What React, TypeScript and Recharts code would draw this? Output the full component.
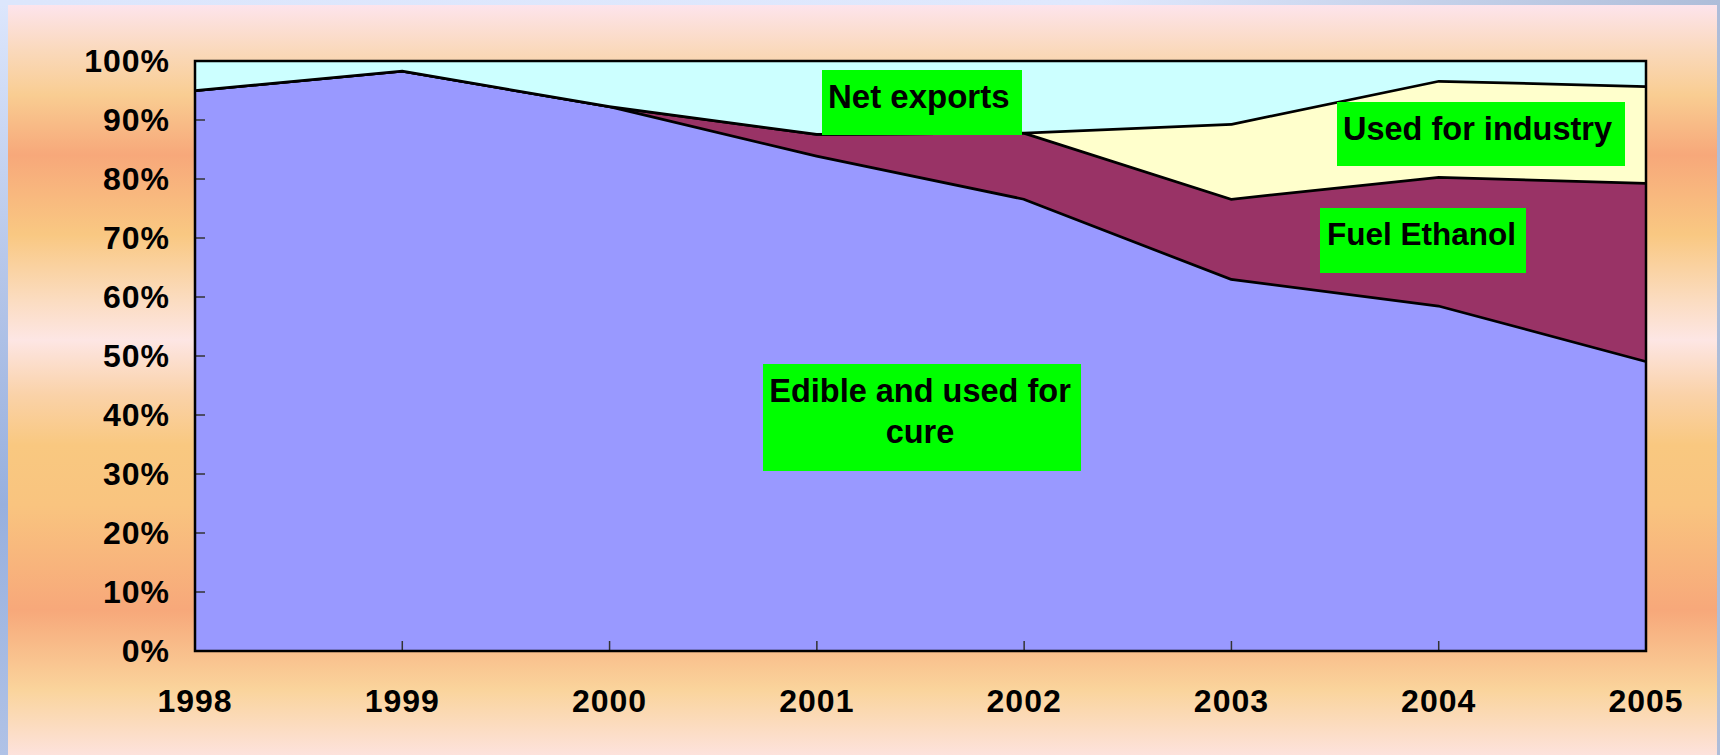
import { AreaChart, Area, XAxis, YAxis, ReferenceArea } from 'recharts';

const years = ['1998', '1999', '2000', '2001', '2002', '2003', '2004', '2005'];
const edible = [95.2, 98.5, 92.5, 84.1, 76.8, 63.2, 58.7, 49.3];
const fuelEthanol = [0, 0, 0, 3.7, 11.2, 13.6, 21.8, 30.2];
const industry = [0, 0, 0, 0, 0, 12.7, 16.3, 16.4];
const netExports = [4.8, 1.5, 7.5, 12.2, 12.0, 10.5, 3.2, 4.1];
const yTicks = [0, 10, 20, 30, 40, 50, 60, 70, 80, 90, 100];

const data = years.map((year, i) => ({
  year,
  edible: edible[i],
  fuel: fuelEthanol[i],
  industry: industry[i],
  exports: netExports[i],
}));

const font = '"Liberation Sans", Arial, sans-serif';

const tickStyle = { fontSize: 32, fontWeight: 'bold', fill: '#000', fontFamily: font, letterSpacing: 1 };

// green annotation boxes, page coordinates
const notes = [
  { x: 822, y: 70, w: 200, h: 65, lines: ['Net exports'], tx: 828, ty: [108], anchor: 'start', size: 33 },
  { x: 763, y: 364, w: 318, h: 107, lines: ['Edible and used for', 'cure'], tx: 920, ty: [402, 443], anchor: 'middle', size: 32.5 },
  { x: 1337, y: 102, w: 288, h: 64, lines: ['Used for industry'], tx: 1343, ty: [140], anchor: 'start', size: 32.5 },
  { x: 1320, y: 208, w: 206, h: 65, lines: ['Fuel Ethanol'], tx: 1327, ty: [245], anchor: 'start', size: 31.5 },
];

const panelBg =
  'linear-gradient(to bottom, #fde4ec 0px, #fad9bc 45px, #f9cd92 90px, #f7a87a 150px, #f9c882 230px, #fbdcc0 295px, #fde6e4 335px, #fad2a8 390px, #f9c880 440px, #f9c47f 500px, #f7a87a 605px, #fad49c 685px, #fde2dc 750px)';

// each later area covers the upper half of the line below it, so strokes are drawn wide
const LINE = 5.5;

export default function App() {
  return (
    <div
      style={{
        position: 'relative',
        width: 1720,
        height: 755,
        overflow: 'hidden',
        background: 'linear-gradient(to right, #dce6fc 0px, #dfe8fd 1100px, #aebdd9 1720px)',
      }}
    >
      <style>{`body{margin:0}`}</style>
      <div
        style={{
          position: 'absolute',
          left: 0,
          top: 5,
          width: 8,
          height: 750,
          background: 'linear-gradient(to bottom, #dce6fc 0px, #b8c8ea 250px, #98b0de 500px, #b0c2e6 750px)',
        }}
      />
      <div style={{ position: 'absolute', left: 8, top: 5, width: 1709, height: 750, background: panelBg }}>
        <AreaChart width={1709} height={750} data={data} margin={{ top: 56, right: 71, left: 0, bottom: 44 }}>
          <XAxis
            dataKey="year"
            axisLine={false}
            tickSize={-10}
            tickMargin={48}
            tickLine={{ stroke: '#333', strokeWidth: 1.5 }}
            tick={tickStyle}
            height={60}
            interval={0}
          />
          <YAxis
            type="number"
            domain={[0, 100]}
            ticks={yTicks}
            tickFormatter={(v) => `${v}%`}
            axisLine={false}
            tickSize={-10}
            tickMargin={35}
            tickLine={{ stroke: '#333', strokeWidth: 1.5 }}
            tick={tickStyle}
            width={187}
          />
          <Area type="linear" dataKey="edible" stackId="a" fill="#9999ff" fillOpacity={1} stroke="#000" strokeWidth={LINE} isAnimationActive={false} />
          <Area type="linear" dataKey="fuel" stackId="a" fill="#993366" fillOpacity={1} stroke="#000" strokeWidth={LINE} isAnimationActive={false} />
          <Area type="linear" dataKey="industry" stackId="a" fill="#ffffcc" fillOpacity={1} stroke="#000" strokeWidth={LINE} isAnimationActive={false} />
          <Area type="linear" dataKey="exports" stackId="a" fill="#ccffff" fillOpacity={1} stroke="none" isAnimationActive={false} />
          <ReferenceArea x1="1998" x2="2005" y1={0} y2={100} fill="none" stroke="#000" strokeWidth={2.5} zIndex={650} />
        </AreaChart>
      </div>
      <svg width={1720} height={755} style={{ position: 'absolute', left: 0, top: 0, pointerEvents: 'none' }}>
        {notes.map((n) => (
          <g key={n.lines[0]}>
            <rect x={n.x} y={n.y} width={n.w} height={n.h} fill="#00ff00" />
            {n.lines.map((t, i) => (
              <text
                key={t}
                x={n.tx}
                y={n.ty[i]}
                textAnchor={n.anchor as any}
                fontFamily={font}
                fontWeight="bold"
                fontSize={n.size}
                fill="#000"
              >
                {t}
              </text>
            ))}
          </g>
        ))}
      </svg>
    </div>
  );
}
